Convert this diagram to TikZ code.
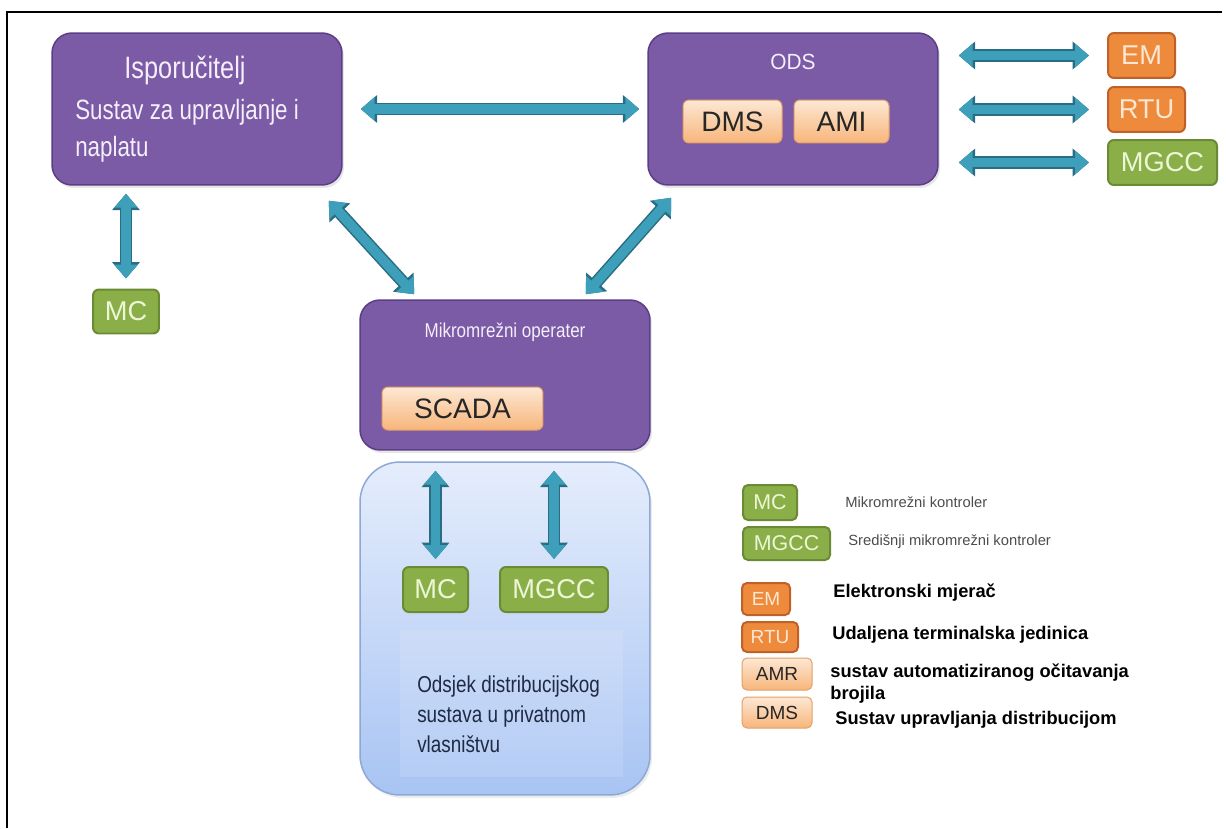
\documentclass[tikz,border=0pt]{standalone}
\usepackage{fontspec}
\setmainfont{Liberation Sans}
\usetikzlibrary{arrows.meta,shadows}

\definecolor{purplebox}{HTML}{7B5AA6}
\definecolor{purpleline}{HTML}{5B3E85}
\definecolor{boxtext}{HTML}{F4EFF9}
\definecolor{linkfill}{HTML}{3D9FBA}
\definecolor{linkline}{HTML}{2A6C82}
\definecolor{greenbox}{HTML}{8BAF48}
\definecolor{greenline}{HTML}{6A8B33}
\definecolor{greentext}{HTML}{EDF6D6}
\definecolor{orangebox}{HTML}{EE8A3C}
\definecolor{orangeline}{HTML}{BF6128}
\definecolor{orangetext}{HTML}{FCE7D3}
\definecolor{peachtop}{HTML}{FDE8D4}
\definecolor{peachbot}{HTML}{F7B57A}
\definecolor{peachline}{HTML}{E2A06A}
\definecolor{bluetop}{HTML}{E5EDFC}
\definecolor{bluebot}{HTML}{A8C4F3}
\definecolor{blueline}{HTML}{8EA8D5}
\definecolor{zonetext}{HTML}{1F2A44}

\tikzset{
  unit/.style={draw=purpleline, line width=0.03cm, fill=purplebox, rounded corners=0.4cm,
    minimum width=5.8cm, drop shadow={opacity=0.2, shadow xshift=0.04cm, shadow yshift=-0.06cm}},
  unittext/.style={text=boxtext, inner sep=0pt},
  module/.style={draw=peachline, line width=0.02cm, top color=peachtop, bottom color=peachbot,
    rounded corners=0.12cm, minimum height=0.86cm, inner sep=0pt, text=black!85,
    font=\fontsize{16}{16}\selectfont},
  ctrl/.style={draw=greenline, line width=0.04cm, fill=greenbox, rounded corners=0.12cm,
    text=greentext, inner sep=0pt, minimum height=0.88cm, font=\fontsize{15.5}{16}\selectfont},
  meter/.style={ctrl, draw=orangeline, fill=orangebox, text=orangetext},
  legtag/.style={minimum height=0.64cm, rounded corners=0.1cm, font=\fontsize{10.8}{11}\selectfont},
  legsmall/.style={anchor=west, inner sep=0pt, text=black!70, font=\fontsize{8.4}{10}\selectfont},
  legbold/.style={anchor=west, inner sep=0pt, align=left, font=\fontsize{10.4}{12.5}\selectfont\bfseries},
  link/.style={line width=0.19cm, color=linkfill,
    arrows={Triangle[width=0.46cm,length=0.28cm]-Triangle[width=0.46cm,length=0.28cm]},
    preaction={draw=linkline, line width=0.25cm,
      arrows={Triangle[width=0.54cm,length=0.33cm]-Triangle[width=0.54cm,length=0.33cm]}}}
}

\begin{document}
\begin{tikzpicture}[x=0.02cm, y=-0.02cm]
\useasboundingbox (0,0) rectangle (1226,828);
\draw[line width=0.04cm] (7,828) -- (7,12) -- (1222,12);

% main blocks
\node[unit, minimum height=3.04cm] (ispor) at (197,109) {};
\node[unit, minimum height=3.04cm] (ods) at (793,109) {};
\node[unit, minimum height=3cm] (mikro) at (505,375) {};
\node[draw=blueline, line width=0.03cm, top color=bluetop, bottom color=bluebot, rounded corners=0.8cm,
  minimum width=5.8cm, minimum height=6.66cm, drop shadow={opacity=0.15, shadow xshift=0.04cm, shadow yshift=-0.06cm}]
  (odsjek) at (505,628.5) {};
\node[fill=white, fill opacity=0.12, minimum width=4.46cm, minimum height=2.94cm] (odsjekInner) at (511.5,703.5) {};

\node[unittext, xscale=0.82, font=\fontsize{17.6}{20}\selectfont] (isporName) at (185,70) {Isporučitelj};
\node[unittext, xscale=0.8, anchor=west, align=left, font=\fontsize{15.9}{21}\selectfont] (isporText) at (75,131)
  {Sustav za upravljanje i\\naplatu};
\node[unittext, xscale=0.95, font=\fontsize{12.5}{14}\selectfont] (odsName) at (793,62) {ODS};
\node[unittext, xscale=0.85, font=\fontsize{11.4}{13}\selectfont] (mikroName) at (505,332) {Mikromrežni operater};
\node[inner sep=0pt, xscale=0.82, anchor=west, align=left, text=zonetext, font=\fontsize{13.1}{17}\selectfont]
  (odsjekText) at (417,714) {Odsjek distribucijskog\\sustava u privatnom\\vlasništvu};

\node[module, minimum width=1.98cm] (dms) at (732.5,121.5) {DMS};
\node[module, minimum width=1.9cm] (ami) at (841.5,121.5) {AMI};
\node[module, minimum width=3.22cm] (scada) at (462.5,408.5) {SCADA};

\node[ctrl, minimum width=1.32cm] (mcLeft) at (126,311.5) {MC};
\node[meter, minimum width=1.34cm, minimum height=0.9cm] (em) at (1141.5,55.5) {EM};
\node[meter, minimum width=1.54cm, minimum height=0.9cm] (rtu) at (1146.5,109.5) {RTU};
\node[ctrl, minimum width=2.18cm, minimum height=0.9cm] (mgccTop) at (1162.5,162.5) {MGCC};
\node[ctrl, minimum width=1.3cm, minimum height=0.9cm] (mcIn) at (435.5,589.5) {MC};
\node[ctrl, minimum width=2.16cm, minimum height=0.9cm] (mgccIn) at (554,589.5) {MGCC};

% connectors
\draw[link, shorten <=0.36cm, shorten >=0.16cm] (ispor.east) -- (ods.west);
\draw[link, shorten <=0.16cm, shorten >=0.2cm] (mcLeft |- ispor.south) -- (mcLeft.north);
\draw[link] ([shift={(-0.28cm,-0.3cm)}]ispor.south east) -- ([shift={(1.1cm,0.1cm)}]mikro.north west);
\draw[link] ([shift={(0.48cm,-0.24cm)}]ods.south west) -- ([shift={(-1.3cm,0.1cm)}]mikro.north east);
\foreach \n in {em,rtu,mgccTop}
  \draw[link, shorten <=0.4cm, shorten >=0.36cm] (ods.east |- \n) -- (\n.west);
\draw[link, shorten <=0.4cm, shorten >=0.14cm] (mcIn |- mikro.south) -- (mcIn.north);
\draw[link, shorten <=0.4cm, shorten >=0.14cm] (mgccIn |- mikro.south) -- (mgccIn.north);

% legend
\node[ctrl, legtag, minimum width=1.08cm, minimum height=0.7cm, font=\fontsize{12.2}{13}\selectfont] (legMC) at (770,502.5) {MC};
\node[legsmall] (legMCText) at (845,502) {Mikromrežni kontroler};
\node[ctrl, legtag, minimum width=1.74cm, minimum height=0.66cm, font=\fontsize{12.2}{13}\selectfont] (legMGCC) at (786.5,543.5) {MGCC};
\node[legsmall] (legMGCCText) at (848,542) {Središnji mikromrežni kontroler};
\node[meter, legtag, minimum width=0.96cm] (legEM) at (766,599) {EM};
\node[legbold] (legEMText) at (833,593) {Elektronski mjerač};
\node[meter, legtag, minimum width=1.12cm, minimum height=0.6cm] (legRTU) at (770,637) {RTU};
\node[legbold] (legRTUText) at (832,635) {Udaljena terminalska jedinica};
\node[module, legtag, minimum width=1.4cm] (legAMR) at (777,674) {AMR};
\node[legbold] (legAMRText) at (830,684) {sustav automatiziranog očitavanja\\brojila};
\node[module, legtag, minimum width=1.4cm, minimum height=0.62cm] (legDMS) at (777,712.5) {DMS};
\node[legbold] (legDMSText) at (835,720) {Sustav upravljanja distribucijom};
\end{tikzpicture}
\end{document}
